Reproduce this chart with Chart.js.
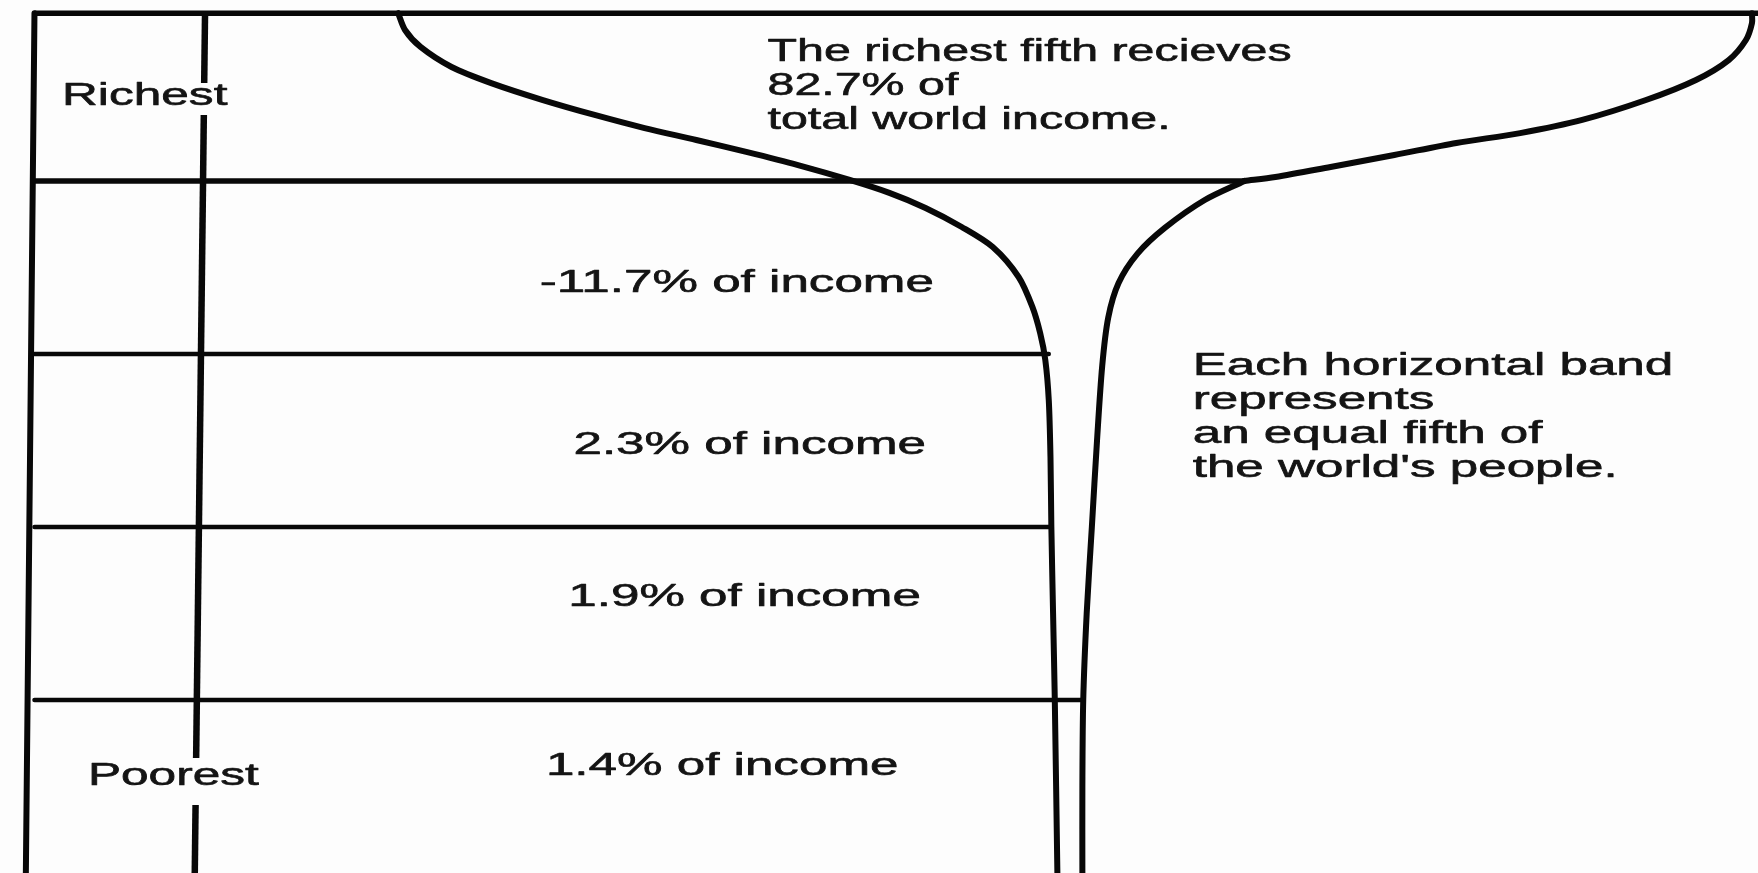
<!DOCTYPE html>
<html>
<head>
<meta charset="utf-8">
<script src="https://cdn.jsdelivr.net/npm/chart.js@4.4.1/dist/chart.umd.min.js"></script>
<style>
html,body{margin:0;padding:0;background:#fdfdfd;overflow:hidden;}
canvas{display:block;}
</style>
</head>
<body>
<canvas id="c" width="1758" height="873"></canvas>
<script>
// Population fifths (top band = richest) and their share of world income (%)
const fifths = ['Richest', 'Second', 'Third', 'Fourth', 'Poorest'];
const incomeShare = [82.7, 11.7, 2.3, 1.9, 1.4];
const incomeText = ['The richest fifth recieves\n82.7% of\ntotal world income.', '-11.7% of income', '2.3% of income', '1.9% of income', '1.4% of income'];
const noteText = 'Each horizontal band\nrepresents\nan equal fifth of\nthe world\'s people.';

// Band boundaries on the population axis (0 = bottom, 5 = top)
const bandEdges = [4.97, 4, 3, 2, 1, 0];
// Right end of each internal band line (width units)
const bandLineEnd = [70.2, 58.85, 59.0, 60.8];

// Champagne-glass outline (x = width units, y = population units)
const bowlLeftX = [21.1, 21.5, 22.4, 24.2, 26.5, 29.5, 32.5, 35.4, 38.4, 41.3, 44.3, 47.3, 49.6, 51.7, 53.8, 55.6, 57.1, 57.9, 58.35, 58.65, 58.85, 58.95, 59.0, 59.1, 59.2, 59.35];
const bowlLeftY = [4.97, 4.873, 4.775, 4.659, 4.566, 4.468, 4.382, 4.306, 4.237, 4.168, 4.092, 4.006, 3.931, 3.844, 3.734, 3.618, 3.445, 3.272, 3.121, 2.965, 2.734, 2.4, 2.0, 1.5, 1.0, 0.0];
const bowlRightX = [99.65, 99.65, 99.3, 98.3, 96.4, 93.5, 89.8, 86.2, 82.5, 78.9, 75.2, 72.0, 70.2];
const bowlRightY = [4.97, 4.913, 4.815, 4.699, 4.584, 4.468, 4.353, 4.277, 4.220, 4.150, 4.081, 4.023, 4.0];
const stemRightX = [70.2, 67.9, 65.6, 64.0, 62.9, 62.3, 61.95, 61.65, 61.35, 61.05, 60.85, 60.8, 60.8];
const stemRightY = [4.0, 3.89, 3.73, 3.58, 3.41, 3.21, 2.93, 2.5, 2.0, 1.5, 1.0, 0.5, 0.0];

// Frame: left border and inner divider (with gaps for the side labels)
const leftBorderX = [0, -0.5];
const leftBorderY = [4.97, 0];
const dividerTopX = 9.9, dividerBottomX = 9.3;
const dividerSegY = [[4.97, 4.566], [4.382, 0.665], [0.393, 0]];

const zip = (xs, ys) => xs.map((x, i) => ({x, y: ys[i]}));
const line = (data, extra) => Object.assign({
  data, showLine: true, pointRadius: 0, borderColor: '#080808', backgroundColor: '#080808',
  borderWidth: 5, tension: 0, clip: false, borderCapStyle: 'round', borderJoinStyle: 'round'
}, extra || {});

const datasets = [];
// top border
datasets.push(line([{x: 0, y: bandEdges[0]}, {x: 101, y: bandEdges[0]}], {borderWidth: 5.5, borderCapStyle: 'butt'}));
// left border
datasets.push(line(zip(leftBorderX, leftBorderY), {borderWidth: 6}));
// internal band lines
bandEdges.slice(1, 5).forEach((y, i) => {
  datasets.push(line([{x: 0, y}, {x: bandLineEnd[i], y}], {borderWidth: i === 0 ? 5.5 : 4.5}));
});
// divider segments
const divX = y => dividerBottomX + (dividerTopX - dividerBottomX) * (y / 5);
dividerSegY.forEach(seg => {
  datasets.push(line(seg.map(y => ({x: divX(y), y})), {borderWidth: 6.5, borderCapStyle: 'butt'}));
});
// glass outline
datasets.push(line(zip(bowlLeftX, bowlLeftY), {borderWidth: 6, tension: 0.3}));
datasets.push(line(zip(bowlRightX, bowlRightY), {borderWidth: 6, tension: 0.3}));
datasets.push(line(zip(stemRightX, stemRightY), {borderWidth: 6, tension: 0.3}));

// Text placement (layout only)
const textLayout = {
  font: 31, lineGap: 0.197,
  fifthLabel: [{x: 1.6, y: 4.49, s: 1.6}, null, null, null, {x: 3.1, y: 0.56, s: 1.6}],
  income: [
    {x: 42.53, y: 4.745, align: 'left', s: 1.56},
    {x: 40.75, y: 3.41, align: 'center', s: 1.65},
    {x: 41.5, y: 2.47, align: 'center', s: 1.65},
    {x: 41.2, y: 1.595, align: 'center', s: 1.65},
    {x: 39.9, y: 0.615, align: 'center', s: 1.65}
  ],
  note: {x: 67.2, y: 2.93, s: 1.65}
};

const textPlugin = {
  id: 'glassText',
  afterDatasetsDraw(chart) {
    const {ctx, scales: {x, y}} = chart;
    const L = textLayout;
    const draw = (str, ux, uy, align, s) => {
      str.split('\n').forEach((t, k) => {
        const px = x.getPixelForValue(ux);
        const py = y.getPixelForValue(uy - k * L.lineGap);
        ctx.save();
        ctx.translate(px, py);
        ctx.scale(s, 1);
        ctx.font = L.font + 'px "Liberation Sans", Arial, sans-serif';
        ctx.fillStyle = '#141414';
        ctx.strokeStyle = '#141414';
        ctx.lineWidth = 0.6;
        ctx.lineJoin = 'round';
        ctx.textBaseline = 'middle';
        ctx.textAlign = align;
        ctx.fillText(t, 0, 0);
        ctx.strokeText(t, 0, 0);
        ctx.restore();
      });
    };
    fifths.forEach((f, i) => {
      const p = L.fifthLabel[i];
      if (p) draw(f, p.x, p.y, 'left', p.s);
    });
    incomeText.forEach((t, i) => {
      const p = L.income[i];
      draw(t, p.x, p.y, p.align, p.s);
    });
    draw(noteText, L.note.x, L.note.y, 'left', L.note.s);
  }
};

new Chart(document.getElementById('c'), {
  type: 'scatter',
  data: {datasets},
  options: {
    responsive: false,
    animation: false,
    events: [],
    layout: {padding: {top: 8, bottom: 0, left: 0, right: 0}},
    plugins: {legend: {display: false}, tooltip: {enabled: false}},
    scales: {
      x: {type: 'linear', min: -2, max: 100, display: false},
      y: {type: 'linear', min: 0, max: 5, display: false}
    }
  },
  plugins: [textPlugin]
});
</script>
</body>
</html>
